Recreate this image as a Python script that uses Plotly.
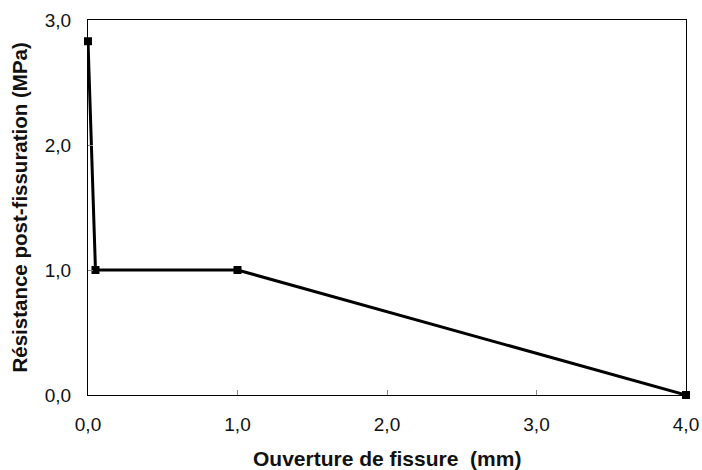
import plotly.graph_objects as go

ouverture = [0.0, 0.05, 1.0, 4.0]
resistance = [2.83, 1.0, 1.0, 0.0]
x_ticks = [0, 1, 2, 3, 4]
x_labels = ["0,0", "1,0", "2,0", "3,0", "4,0"]
y_ticks = [0, 1, 2, 3]
y_labels = ["0,0", "1,0", "2,0", "3,0"]
x_title = "Ouverture de fissure  (mm)"
y_title = "Résistance post-fissuration (MPa)"

fig = go.Figure(go.Scatter(
    x=ouverture, y=resistance, mode="lines+markers",
    line=dict(color="black", width=3),
    marker=dict(symbol="square", size=8, color="black"),
    cliponaxis=False,
))

font = "Liberation Sans, Arial, sans-serif"
fig.update_layout(
    width=702, height=470,
    margin=dict(l=88, r=16, t=20, b=75),
    paper_bgcolor="white", plot_bgcolor="white",
    showlegend=False,
    font=dict(family=font, size=19, color="#111"),
    annotations=[
        dict(text="<b>" + x_title + "</b>", xref="paper", yref="paper",
             x=0.5, y=0, yshift=-63, showarrow=False, font=dict(size=21),
             xanchor="center", yanchor="middle"),
        dict(text="<b>" + y_title + "</b>", xref="paper", yref="paper",
             x=0, y=0.5, xshift=-69, showarrow=False, font=dict(size=20.5),
             textangle=-90, xanchor="center", yanchor="middle"),
    ],
)
fig.update_xaxes(
    range=[0, 4], tickvals=x_ticks, ticktext=x_labels,
    showgrid=False, zeroline=False, automargin=False,
    showline=True, linecolor="black", linewidth=1, mirror=True,
    ticks="inside", ticklen=5, tickcolor="#888",
    ticklabelstandoff=12, ticklabeloverflow="allow",
)
fig.update_yaxes(
    range=[0, 3], tickvals=y_ticks, ticktext=y_labels,
    showgrid=False, zeroline=False, automargin=False,
    showline=True, linecolor="black", linewidth=1, mirror=True,
    ticks="inside", ticklen=5, tickcolor="#888",
    ticklabelstandoff=12,
)
fig.write_html("out.html", config={"displayModeBar": False},
               post_script="document.body.style.margin='0';")
